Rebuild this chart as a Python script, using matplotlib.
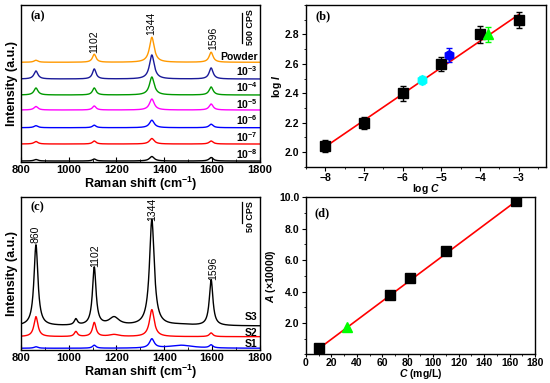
import numpy as np
import matplotlib
matplotlib.use('Agg')
import matplotlib.pyplot as plt
from matplotlib.ticker import MultipleLocator, FormatStrFormatter

plt.rcParams['font.family'] = ['Liberation Sans', 'DejaVu Sans']
plt.rcParams['font.weight'] = 'bold'
plt.rcParams['axes.labelweight'] = 'bold'
plt.rcParams['mathtext.fontset'] = 'custom'
plt.rcParams['mathtext.rm'] = 'Liberation Sans:bold'
plt.rcParams['mathtext.it'] = 'Liberation Sans:italic:bold'
plt.rcParams['mathtext.bf'] = 'Liberation Sans:bold'
plt.rcParams['axes.linewidth'] = 1.0

# ---- data: panel (a), SERS spectra at several concentrations ----
peaks_a = [863, 1107, 1348, 1596]            # peak positions (cm-1)
widths_a = [10, 9, 12, 10]                    # half widths
labels_a = ['Powder', '10$^{-3}$', '10$^{-4}$', '10$^{-5}$',
            '10$^{-6}$', '10$^{-7}$', '10$^{-8}$']
colors_a = ['#FF9900', '#1A1A99', '#009900', '#FF00FF',
            '#0000FF', '#FF0000', '#000000']
offsets_a = [99.7, 83, 67, 52, 34.3, 18, 1]
heights_a = [[2, 8, 25, 10],
             [8, 10, 24, 11],
             [7, 7, 18, 8],
             [3.5, 4, 11, 6],
             [2, 2.5, 7.5, 3.5],
             [2.5, 3, 5.5, 3],
             [1.5, 2, 4.5, 3.5]]
label_y_a = [105, 91, 75, 58, 42, 25, 8]

# ---- data: panel (b), calibration log I vs log C ----
logC = [-8, -7, -6, -5, -4, -3]
logI = [2.04, 2.20, 2.40, 2.60, 2.80, 2.90]
logI_err = [0.04, 0.04, 0.05, 0.05, 0.055, 0.055]
fit_b_x = [-8, -3]
fit_b_y = [2.035, 2.935]

# ---- data: panel (c), samples S1-S3 ----
peaks_c = [863, 1030, 1107, 1190, 1348, 1470, 1596]
widths_c = [10, 8, 9, 25, 12, 60, 9]
labels_c = ['S3', 'S2', 'S1']
colors_c = ['#000000', '#FF0000', '#0000FF']
offsets_c = [24, 13.3, 1.7]
heights_c = [[81, 6, 58, 8, 106, 1, 46],
             [20, 5, 14, 2, 27, 0, 3.7],
             [1.5, 0, 3, 0, 9, 3, 3]]
label_y_c = [33, 17, 6]

# ---- data: panel (d), A vs C ----
conc = [10, 66, 82, 110, 165]
absorb = [0.4, 3.8, 4.85, 6.55, 9.75]
fit_d_x = [10, 165]
fit_d_y = [0.35, 9.75]

wn = np.linspace(800, 1800, 1001)


def spectrum(pos, wid, hts, base):
    y = np.full_like(wn, base)
    for p, w, h in zip(pos, wid, hts):
        y += h / (1 + ((wn - p) / w) ** 2)
    return y


fig = plt.figure(figsize=(5.5, 3.83), dpi=100)
ax_a = fig.add_axes([0.038, 0.577, 0.4345, 0.41])
ax_b = fig.add_axes([0.556, 0.5647, 0.4364, 0.422])
ax_c = fig.add_axes([0.038, 0.0862, 0.4345, 0.3995])
ax_d = fig.add_axes([0.556, 0.0749, 0.417, 0.41])

panel_font = dict(family='Liberation Serif', weight='bold', fontsize=9)

# (a)
for hts, off, col, lab, ly in zip(heights_a, offsets_a, colors_a, labels_a, label_y_a):
    ax_a.plot(wn, spectrum(peaks_a, widths_a, hts, off), color=col, lw=1.0)
    ax_a.text(1790, ly, lab, ha='right', va='center', fontsize=7.5)
for x, y, t in [(1107, 109, '1102'), (1347, 127, '1344'), (1603, 112, '1596')]:
    ax_a.text(x, y, t, rotation=90, ha='center', va='bottom', fontsize=7.5,
              fontweight='normal')
ax_a.plot([0.925, 0.925], [0.758, 0.949], color='k', lw=0.9, transform=ax_a.transAxes)
ax_a.text(0.96, 0.86, '500 CPS', rotation=90, ha='center', va='center',
          fontsize=6.5, transform=ax_a.transAxes)
ax_a.set_xlim(800, 1800)
ax_a.set_ylim(0, 157)
ax_a.set_yticks([])
ax_a.xaxis.set_major_locator(MultipleLocator(200))
ax_a.xaxis.set_minor_locator(MultipleLocator(100))
ax_a.tick_params(axis='x', direction='in', labelsize=8, pad=2)
ax_a.tick_params(axis='x', which='minor', direction='in', length=2)
ax_a.set_xlabel('Raman shift (cm$^{-1}$)', fontsize=9, labelpad=0)
ax_a.set_ylabel('Intensity (a.u.)', fontsize=9, labelpad=2)
ax_a.text(0.04, 0.93, '(a)', transform=ax_a.transAxes, va='center', **panel_font)

# (b)
ax_b.plot(fit_b_x, fit_b_y, color='#FF0000', lw=1.2, zorder=2)
ax_b.errorbar(logC, logI, yerr=logI_err, fmt='s', color='k', ms=6.5,
              capsize=2, elinewidth=1, zorder=3)
ax_b.errorbar([-5.5], [2.49], yerr=[0.03], fmt='h', color='#00FFFF', ms=7,
              capsize=2, elinewidth=1, zorder=3)
ax_b.errorbar([-4.8], [2.66], yerr=[0.05], fmt='h', color='#0000FF', ms=7,
              capsize=2, elinewidth=1, zorder=3)
ax_b.errorbar([-3.8], [2.80], yerr=[0.05], fmt='^', color='#00FF00', ms=7,
              capsize=2, elinewidth=1, zorder=3)
ax_b.set_xlim(-8.5, -2.3)
ax_b.set_ylim(1.9, 3.0)
ax_b.set_xticks(logC)
ax_b.set_yticks([2.0, 2.2, 2.4, 2.6, 2.8])
ax_b.xaxis.set_minor_locator(MultipleLocator(0.5))
ax_b.yaxis.set_minor_locator(MultipleLocator(0.1))
ax_b.yaxis.set_major_formatter(FormatStrFormatter('%.1f'))
ax_b.tick_params(labelsize=7.5, length=3, pad=1.5)
ax_b.tick_params(which='minor', length=1.5)
ax_b.set_xlabel('log $C$', fontsize=7.5, labelpad=-1)
ax_b.set_ylabel('log $I$', fontsize=7.5, labelpad=1)
ax_b.text(0.04, 0.93, '(b)', transform=ax_b.transAxes, va='center', **panel_font)

# (c)
for hts, off, col, lab, ly in zip(heights_c, offsets_c, colors_c, labels_c, label_y_c):
    ax_c.plot(wn, spectrum(peaks_c, widths_c, hts, off), color=col, lw=1.0)
    ax_c.text(1790, ly, lab, ha='right', va='center', fontsize=7.5)
for x, y, t in [(863, 107, '860'), (1110, 83, '1102'), (1348, 129, '1344'),
                (1603, 70, '1596')]:
    ax_c.text(x, y, t, rotation=90, ha='center', va='bottom', fontsize=7.5,
              fontweight='normal')
ax_c.plot([0.925, 0.925], [0.83, 0.967], color='k', lw=0.9, transform=ax_c.transAxes)
ax_c.text(0.96, 0.87, '50 CPS', rotation=90, ha='center', va='center',
          fontsize=6.5, transform=ax_c.transAxes)
ax_c.set_xlim(800, 1800)
ax_c.set_ylim(0, 153)
ax_c.set_yticks([])
ax_c.xaxis.set_major_locator(MultipleLocator(200))
ax_c.xaxis.set_minor_locator(MultipleLocator(100))
ax_c.tick_params(axis='x', direction='in', labelsize=8, pad=2)
ax_c.tick_params(axis='x', which='minor', direction='in', length=2)
ax_c.set_xlabel('Raman shift (cm$^{-1}$)', fontsize=9, labelpad=0)
ax_c.set_ylabel('Intensity (a.u.)', fontsize=9, labelpad=2)
ax_c.text(0.04, 0.93, '(c)', transform=ax_c.transAxes, va='center', **panel_font)

# (d)
ax_d.plot(fit_d_x, fit_d_y, color='#FF0000', lw=1.2, zorder=2)
ax_d.plot(conc, absorb, 's', color='k', ms=6.5, zorder=3)
ax_d.plot([32], [1.75], '^', color='#00FF00', ms=7, zorder=3)
ax_d.set_xlim(0, 180)
ax_d.set_ylim(0, 10)
ax_d.xaxis.set_major_locator(MultipleLocator(20))
ax_d.xaxis.set_minor_locator(MultipleLocator(10))
ax_d.set_yticks([2, 4, 6, 8, 10])
ax_d.yaxis.set_minor_locator(MultipleLocator(1))
ax_d.yaxis.set_major_formatter(FormatStrFormatter('%.1f'))
ax_d.tick_params(labelsize=7.5, length=3, pad=1.5)
ax_d.tick_params(axis='x', length=2, pad=1)
ax_d.tick_params(which='minor', length=1.5)
ax_d.set_xlabel('$C$ (mg/L)', fontsize=7.5, labelpad=-1)
ax_d.set_ylabel('$A$ (\u00d710000)', fontsize=7.5, labelpad=1)
ax_d.text(0.04, 0.9, '(d)', transform=ax_d.transAxes, va='center', **panel_font)

fig.savefig('out.png', dpi=100)
